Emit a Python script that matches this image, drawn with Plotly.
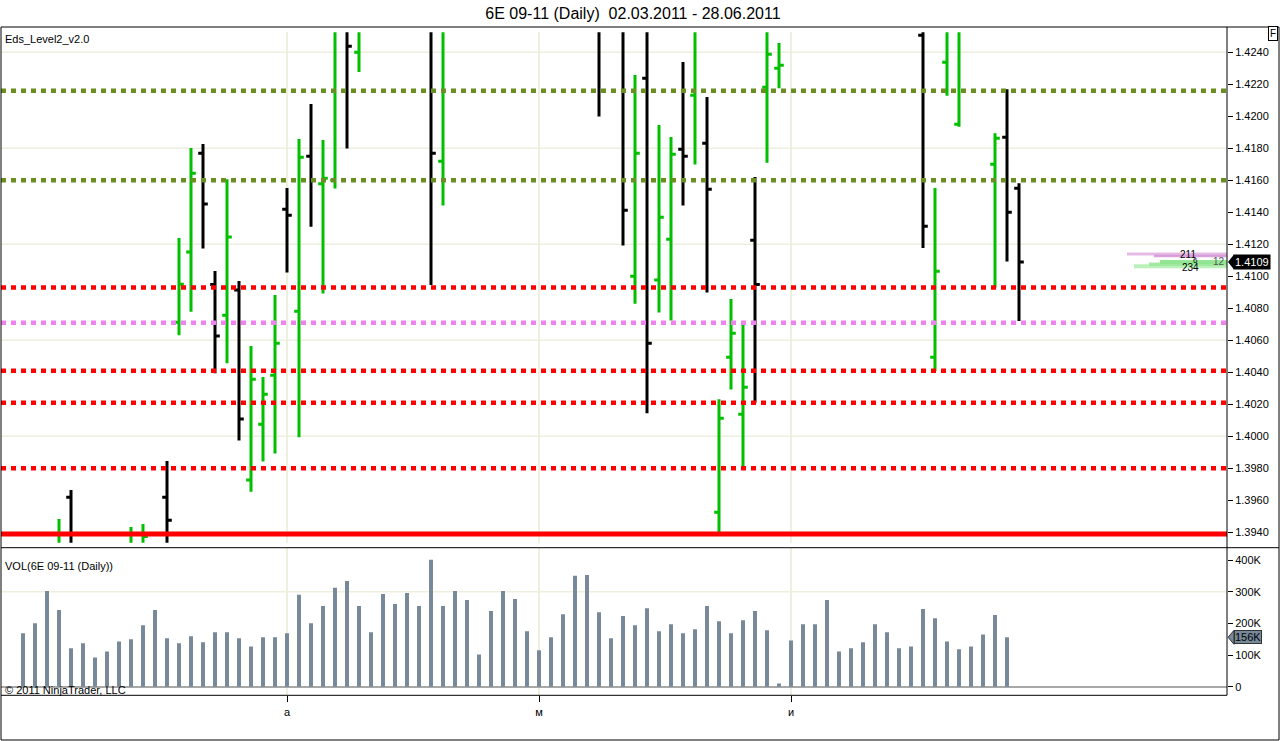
import plotly.graph_objects as go

# ---------------- data ----------------
bar_index = list(range(84))
N = None
opens = [N, N, N, 1.3925, 1.39619, N, N, N, N, 1.3925, 1.3926, N, 1.39619, 1.40713, 1.41152,
         1.41769, 1.40948, 1.40756, 1.40915, 1.39727, 1.40075, 1.40381, 1.41419, 1.40781, 1.41750,
         1.41579, 1.41600, 1.4265, 1.42400, N, N, N, N, N, 1.4270, 1.41719, N, N, N, N, N, N, N, N,
         N, N, N, N, 1.4275, N, 1.4265, 1.41000, 1.42238, 1.40977, 1.41231, 1.41794, 1.42131,
         1.41831, 1.39525, 1.40494, 1.40138, 1.41225, 1.42181, 1.42300, N, N, N, N, N, N, N, N, N,
         N, N, 1.42506, 1.40494, 1.42338, 1.41950, N, N, 1.41700, 1.41869, 1.41550]
highs = [N, N, N, 1.39483, 1.39665, N, N, N, N, 1.39433, 1.39452, N, 1.39846, 1.41240, 1.41802,
         1.41827, 1.41033, 1.41606, 1.40971, 1.40565, 1.40371, 1.40883, 1.41552, 1.41858, 1.42077,
         1.41852, 1.4275, 1.4280, 1.4265, N, N, N, N, N, 1.4285, 1.4275, N, N, N, N, N, N, N, N,
         N, N, N, N, 1.4285, N, 1.4280, 1.42258, 1.4258, 1.41946, 1.41871, 1.42340, 1.4265,
         1.42121, 1.40231, 1.40858, 1.40721, 1.41621, 1.4262, 1.42458, N, N, N, N, N, N, N, N, N,
         N, N, 1.4256, 1.41552, 1.4268, 1.4270, N, N, 1.41894, 1.42169, 1.41581]
lows = [N, N, N, 1.3915, 1.3915, N, N, N, N, 1.3918, 1.3918, N, 1.3922, 1.40631, 1.40779,
        1.41173, 1.40394, 1.40456, 1.39973, 1.39654, 1.39842, 1.39892, 1.41023, 1.39994, 1.41310,
        1.40892, 1.41548, 1.41798, 1.42277, N, N, N, N, N, 1.40946, 1.41442, N, N, N, N, N, N, N, N,
        N, N, N, N, 1.41998, N, 1.41192, 1.40829, 1.40144, 1.40773, 1.40723, 1.41442, 1.41698,
        1.40898, 1.3939, 1.40292, 1.39792, 1.40210, 1.41710, 1.42175, N, N, N, N, N, N, N, N, N,
        N, N, 1.41177, 1.40408, 1.42129, 1.41935, N, N, 1.40929, 1.41092, 1.40721]
closes = [N, N, N, 1.3930, 1.3925, N, N, N, N, 1.3931, 1.39373, N, 1.39475, 1.40950, 1.41644,
          1.41452, 1.40627, 1.41246, 1.40108, 1.40356, 1.40263, 1.40581, 1.41381, 1.41744, 1.41600,
          1.41613, 1.4262, 1.42438, 1.4258, N, N, N, N, N, 1.41769, 1.4262, N, N, N, N, N, N, N, N,
          N, N, N, N, 1.4258, N, 1.41413, 1.41769, 1.40581, 1.41369, 1.41763, 1.41750, 1.4258,
          1.41544, 1.40113, 1.40644, 1.40306, 1.40948, 1.42388, 1.42319, N, N, N, N, N, N, N, N, N,
          N, N, 1.41313, 1.41031, 1.4256, 1.4258, N, N, 1.41863, 1.41400, 1.4109]
volumes = [169, 200, 302, 242, 121, 137, 92, 111, 143, 150, 194, 242, 153, 137, 159, 140, 172, 172,
           153, 127, 156, 156, 169, 290, 200, 255, 312, 334, 255, 172, 293, 261, 296, 255, 401, 255,
           302, 274, 102, 239, 302, 277, 175, 115, 156, 229, 350, 353, 235, 153, 223, 194, 248, 175,
           197, 169, 181, 255, 207, 169, 210, 239, 178, 10, 146, 197, 197, 274, 111, 121, 140, 197,
           172, 121, 127, 245, 216, 143, 118, 127, 165, 226, 156, N]  # thousands

month_tick_index = [22, 43, 64]
month_labels = ["а", "м", "и"]

level_olive = [1.4216, 1.4160]
level_red_dotted = [1.4093, 1.4041, 1.4021, 1.3980]
level_pink = [1.4071]
level_solid = [1.3939]

price_grid = [1.394, 1.400, 1.406, 1.412, 1.418, 1.424]
vol_grid = [300000]
vol_tickvals = [0, 100000, 200000, 300000, 400000]
vol_ticktext = ["0", "100K", "200K", "300K", "400K"]

profile_prices = [1.411400, 1.411270, 1.410630, 1.410760, 1.410900]
profile_sizes = [100, 73, 93, 78, 67]
profile_heights = [0.00019, 0.00015, 0.00024, 0.00022, 0.00024]
profile_colors = ["rgba(226,178,226,0.9)", "rgba(212,146,212,0.85)",
                  "rgba(178,240,178,0.9)", "rgba(156,232,156,0.9)", "rgba(136,228,136,0.9)"]
profile_label_text = ["211", "6", "12", "234"]
profile_label_price = [1.41137, 1.41100, 1.41090, 1.41054]
profile_label_pos = [39, 32, 8, 37]
profile_label_size = [10, 8, 10, 10]
profile_label_color = ["#000000", "#000000", "#555555", "#000000"]

title_text = "6E 09-11 (Daily)  02.03.2011 - 28.06.2011"

# ---------------- figure ----------------
FONT = "Liberation Sans, Arial, sans-serif"
keep = [i for i in bar_index if opens[i] is not None]
vkeep = [i for i in bar_index if volumes[i] is not None]
last_close = closes[-1]
last_volume = [v for v in volumes if v is not None][-1]

fig = go.Figure()
fig.add_trace(go.Ohlc(
    x=keep, open=[opens[i] for i in keep], high=[highs[i] for i in keep],
    low=[lows[i] for i in keep], close=[closes[i] for i in keep],
    increasing=dict(line=dict(color="#00C000", width=3)),
    decreasing=dict(line=dict(color="#000000", width=3)),
    tickwidth=0.4, xaxis="x", yaxis="y", showlegend=False, hoverinfo="skip"))

fig.add_trace(go.Bar(
    x=vkeep, y=[volumes[i] * 1000 for i in vkeep], width=0.33,
    marker=dict(color="#778899", line=dict(width=0)),
    xaxis="x", yaxis="y2", showlegend=False, hoverinfo="skip"))

fig.add_trace(go.Bar(
    orientation="h", y=profile_prices, x=profile_sizes, width=profile_heights,
    marker=dict(color=profile_colors, line=dict(width=0)),
    xaxis="x3", yaxis="y", showlegend=False, hoverinfo="skip"))

shapes = []
for g in price_grid:
    shapes.append(dict(type="line", xref="x domain", x0=0, x1=1, yref="y", y0=g, y1=g,
                       line=dict(color="#EFEFE0", width=1.5), layer="below"))
for g in vol_grid:
    shapes.append(dict(type="line", xref="x domain", x0=0, x1=1, yref="y2", y0=g, y1=g,
                       line=dict(color="#EFEFE0", width=1.5), layer="below"))
for lv in level_olive:
    shapes.append(dict(type="line", xref="x domain", x0=0, x1=1, yref="y", y0=lv, y1=lv,
                       line=dict(color="#6B8E23", width=4.5, dash="5px,5px")))
for lv in level_pink:
    shapes.append(dict(type="line", xref="x domain", x0=0, x1=1, yref="y", y0=lv, y1=lv,
                       line=dict(color="#EE82EE", width=4.5, dash="5px,5px")))
for lv in level_red_dotted:
    shapes.append(dict(type="line", xref="x domain", x0=0, x1=1, yref="y", y0=lv, y1=lv,
                       line=dict(color="#FF0000", width=4.5, dash="5px,5px")))
for lv in level_solid:
    shapes.append(dict(type="line", xref="x domain", x0=0, x1=1, yref="y", y0=lv, y1=lv,
                       line=dict(color="#FF0000", width=5)))

# frame lines (paper coords)
XR = 1278 / 1226
frame = [
    (0, 1, XR, 1), (0, 0, XR, 0), (0, 0, 0, 1), (XR, 0, XR, 1),
    (0, 0.26971, XR, 0.26971), (1, 0.06269, 1, 1), (0, 0.06269, 1, 0.06269),
]
for x0, y0, x1, y1 in frame:
    shapes.append(dict(type="line", xref="paper", yref="paper", x0=x0, y0=y0, x1=x1, y1=y1,
                       line=dict(color="#000000", width=1)))

# pointer triangles for the current-value markers
shapes.append(dict(type="path", xref="paper", xsizemode="pixel", xanchor=1,
                   yref="y", ysizemode="pixel", yanchor=last_close,
                   path="M1,0 L7,7.5 L7,-7.5 Z", fillcolor="black", line=dict(width=0)))
shapes.append(dict(type="path", xref="paper", xsizemode="pixel", xanchor=1,
                   yref="y2", ysizemode="pixel", yanchor=last_volume * 1000,
                   path="M1,0 L7,7 L7,-7 Z", fillcolor="#778899", line=dict(color="#333333", width=1)))

annotations = [
    dict(text="Eds_Level2_v2.0", xref="paper", yref="paper", x=0, y=0.9832, xshift=2,
         xanchor="left", yanchor="middle", showarrow=False, font=dict(size=11, color="black", family=FONT)),
    dict(text="VOL(6E 09-11 (Daily))", xref="paper", yref="paper", x=0, y=0.2447, xshift=2,
         xanchor="left", yanchor="middle", showarrow=False, font=dict(size=11, color="black", family=FONT)),
    dict(text="© 2011 NinjaTrader, LLC", xref="paper", yref="paper", x=0, y=0.0708, xshift=2,
         xanchor="left", yanchor="middle", showarrow=False, font=dict(size=11, color="black", family=FONT)),
    dict(text="F", xref="paper", yref="paper", x=1.0372, y=0.9902, xanchor="center", yanchor="middle",
         showarrow=False, font=dict(size=10, color="black", family=FONT),
         bordercolor="black", borderwidth=1, borderpad=1, bgcolor="white"),
    dict(text=f"{last_close:.4f}", xref="paper", yref="y", x=1, y=last_close, showarrow=False,
         xanchor="left", yanchor="middle", xshift=6,
         bgcolor="black", borderpad=1, font=dict(size=11, color="white", family=FONT)),
    dict(text=f"{last_volume}K", xref="paper", yref="y2", x=1, y=last_volume * 1000, showarrow=False,
         xanchor="left", yanchor="middle", xshift=7,
         bgcolor="#778899", bordercolor="#333333", borderwidth=1, borderpad=0,
         font=dict(size=11, color="black", family=FONT)),
]
for t, p, pos, sz, c in zip(profile_label_text, profile_label_price, profile_label_pos,
                           profile_label_size, profile_label_color):
    annotations.append(dict(text=t, xref="x3", yref="y", x=pos, y=p, showarrow=False,
                            xanchor="center", yanchor="middle",
                            font=dict(size=sz, color=c, family=FONT)))

fig.update_layout(
    width=1280, height=741, autosize=False,
    margin=dict(l=1, r=53, t=27, b=1, pad=0),
    paper_bgcolor="white", plot_bgcolor="white",
    font=dict(family=FONT, size=11, color="black"),
    title=dict(text=title_text, x=0.4945, xanchor="center", y=1 - 13 / 741, yanchor="middle",
               yref="container", font=dict(size=16, color="black", family=FONT)),
    barmode="overlay",
    showlegend=False,
    shapes=shapes,
    annotations=annotations,
    xaxis=dict(domain=[0, 1], range=[(1 - 23) / 12, (1227 - 23) / 12], anchor="y2",
               tickmode="array", tickvals=month_tick_index, ticktext=month_labels,
               ticks="outside", ticklen=6, tickcolor="black", tickwidth=1,
               showgrid=True, gridcolor="#EFEFE0", gridwidth=1.5,
               showline=False, zeroline=False, rangeslider=dict(visible=False),
               tickfont=dict(size=11, family=FONT)),
    xaxis3=dict(overlaying="x", range=[1226, 0], visible=False, anchor="y"),
    yaxis=dict(domain=[0.27672, 0.99257], range=[1.39335, 1.42525], side="right", anchor="x",
               dtick=0.002, tick0=1.394, tickformat=".4f", ticks="outside", ticklen=5,
               tickcolor="black", showgrid=False, zeroline=False, showline=False,
               tickfont=dict(size=11, family=FONT)),
    yaxis2=dict(domain=[0.06269, 0.26928], range=[-27150, 437885], side="right", anchor="x",
                tickmode="array", tickvals=vol_tickvals, ticktext=vol_ticktext,
                ticks="outside", ticklen=5, tickcolor="black", showgrid=False,
                zeroline=True, zerolinecolor="#A8A8A8", zerolinewidth=2, showline=False,
                tickfont=dict(size=11, family=FONT)),
)

fig.write_html("out.html", config={"displayModeBar": False},
               post_script="document.body.style.margin='0px';")
